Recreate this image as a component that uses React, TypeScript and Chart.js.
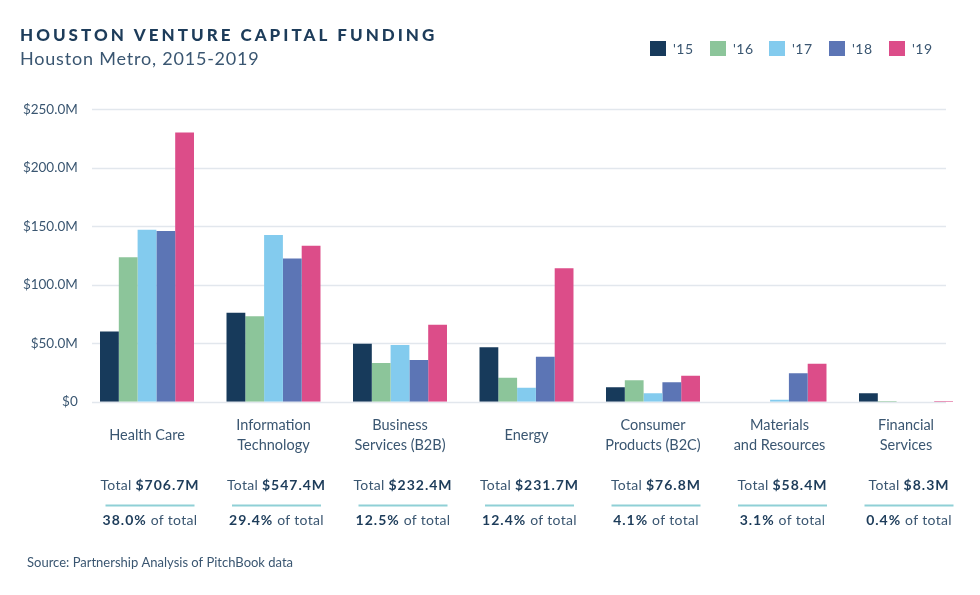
import { useEffect, useRef } from 'react';
import { Chart, registerables } from 'chart.js';

Chart.register(...registerables);

const categories: string[][] = [
  ['Health Care'],
  ['Information', 'Technology'],
  ['Business', 'Services (B2B)'],
  ['Energy'],
  ['Consumer', 'Products (B2C)'],
  ['Materials', 'and Resources'],
  ['Financial', 'Services'],
];
const years = ["'15", "'16", "'17", "'18", "'19"];
const colors = ['#173a5b', '#8cc59a', '#83cbee', '#5c75b5', '#dc4d89'];

const v15 = [60, 76, 49.5, 46.5, 12.4, 0, 7.2];
const v16 = [123.5, 73, 33, 20.5, 18.4, 0, 0.6];
const v17 = [147, 142.6, 48.5, 12, 7.2, 1.7, 0];
const v18 = [146, 122.5, 35.7, 38.5, 16.7, 24.3, 0];
const v19 = [230.2, 133.3, 65.7, 114.2, 22.1, 32.4, 0.5];

const totals = ['$706.7M', '$547.4M', '$232.4M', '$231.7M', '$76.8M', '$58.4M', '$8.3M'];
const shares = ['38.0%', '29.4%', '12.5%', '12.4%', '4.1%', '3.1%', '0.4%'];

const titleText = 'HOUSTON VENTURE CAPITAL FUNDING';
const subtitleText = 'Houston Metro, 2015-2019';
const sourceText = 'Source: Partnership Analysis of PitchBook data';

const FONT = 'Lato, "Open Sans", sans-serif';
const DARK = '#1d3c5a';
const MID = '#3a5671';

function drawMixed(ctx: CanvasRenderingContext2D, cx: number, y: number, parts: [string, boolean][], size: number) {
  let total = 0;
  const widths: number[] = [];
  parts.forEach(([t, b]) => {
    ctx.font = `${b ? 'bold ' : ''}${size}px ${FONT}`;
    ctx.letterSpacing = b ? '1px' : '0.3px';
    const w = ctx.measureText(t).width;
    widths.push(w);
    total += w;
  });
  let x = cx - total / 2;
  parts.forEach(([t, b], i) => {
    ctx.font = `${b ? 'bold ' : ''}${size}px ${FONT}`;
    ctx.letterSpacing = b ? '1px' : '0.3px';
    ctx.fillStyle = b ? DARK : MID;
    ctx.fillText(t, x, y);
    x += widths[i];
  });
  ctx.letterSpacing = '0px';
}

const decorPlugin = {
  id: 'decor',
  beforeDatasetsDraw(chart: any) {
    const ctx: CanvasRenderingContext2D = chart.ctx;
    const ys = chart.scales.y;
    ctx.save();
    ctx.strokeStyle = '#e2e7ed';
    ctx.lineWidth = 1.5;
    ys.ticks.forEach((t: any) => {
      const py = Math.round(ys.getPixelForValue(t.value)) + 0.5;
      ctx.beginPath();
      ctx.moveTo(92, py);
      ctx.lineTo(946, py);
      ctx.stroke();
    });
    ctx.restore();
  },
  afterDraw(chart: any) {
    const ctx: CanvasRenderingContext2D = chart.ctx;
    const xs = chart.scales.x;
    ctx.save();
    // title
    ctx.textBaseline = 'alphabetic';
    ctx.textAlign = 'left';
    ctx.fillStyle = DARK;
    ctx.font = `900 17px ${FONT}`;
    ctx.letterSpacing = '3px';
    ctx.fillText(titleText, 20, 41);
    ctx.letterSpacing = '0.8px';
    ctx.fillStyle = MID;
    ctx.font = `18px ${FONT}`;
    ctx.fillText(subtitleText, 20, 64.5);
    ctx.letterSpacing = '0px';

    // legend
    const lx = [650, 710, 769, 829, 889];
    chart.data.datasets.forEach((ds: any, i: number) => {
      ctx.fillStyle = ds.backgroundColor;
      ctx.fillRect(lx[i], 41, 16, 15);
      ctx.fillStyle = MID;
      ctx.font = `14px ${FONT}`;
      ctx.letterSpacing = '0.5px';
      ctx.textBaseline = 'middle';
      ctx.fillText(ds.label, lx[i] + 23, 49);
    });
    ctx.letterSpacing = '0px';

    // totals
    ctx.textBaseline = 'middle';
    categories.forEach((_, i) => {
      const cx = xs.getPixelForValue(i) + 3;
      drawMixed(ctx, cx, 485, [['Total ', false], [totals[i], true]], 14);
      ctx.strokeStyle = '#8fd0d6';
      ctx.lineWidth = 2;
      ctx.beginPath();
      ctx.moveTo(cx - 44.5, 505.5);
      ctx.lineTo(cx + 44.5, 505.5);
      ctx.stroke();
      drawMixed(ctx, cx, 520.5, [[shares[i], true], [' of total', false]], 14);
    });

    // source
    ctx.textAlign = 'left';
    ctx.textBaseline = 'alphabetic';
    ctx.fillStyle = MID;
    ctx.font = `13px ${FONT}`;
    ctx.fillText(sourceText, 27, 567);
    ctx.restore();
  },
};

export default function App() {
  const ref = useRef<HTMLCanvasElement | null>(null);
  useEffect(() => {
    if (!ref.current) return;
    const series = [v15, v16, v17, v18, v19];
    const chart = new Chart(ref.current, {
      type: 'bar',
      data: {
        labels: categories,
        datasets: series.map((d, i) => ({
          label: years[i],
          data: d,
          backgroundColor: colors[i],
          borderWidth: 0,
          barPercentage: 1,
          categoryPercentage: 0.743,
        })),
      },
      options: {
        animation: false,
        responsive: true,
        maintainAspectRatio: false,
        layout: { padding: { top: 109.3, right: 10.75, left: 0, bottom: 0 } },
        plugins: {
          legend: { display: false },
          title: { display: false },
          tooltip: { enabled: false },
        },
        scales: {
          x: {
            grid: { display: false },
            border: { display: false },
            ticks: {
              font: { family: FONT, size: 14.5, lineHeight: 20 / 14.5 },
              color: MID,
              padding: 16,
              crossAlign: 'center',
              maxRotation: 0,
              autoSkip: false,
            },
            afterFit: (s: any) => {
              s.height = 193.3;
            },
          },
          y: {
            min: 0,
            max: 250,
            grid: { display: false, drawTicks: false },
            border: { display: false },
            ticks: {
              stepSize: 50,
              padding: 6,
              color: MID,
              font: { family: FONT, size: 13.5 },
              callback: (v: any) => (Number(v) === 0 ? '$0' : '$' + Number(v).toFixed(1) + 'M'),
            },
            afterFit: (s: any) => {
              s.width = 83.75;
            },
          },
        },
      },
      plugins: [decorPlugin],
    });
    return () => chart.destroy();
  }, []);
  return (
    <div style={{ position: 'absolute', left: 0, top: 0, width: 980, height: 595, background: '#fff' }}>
      <canvas ref={ref} />
    </div>
  );
}
